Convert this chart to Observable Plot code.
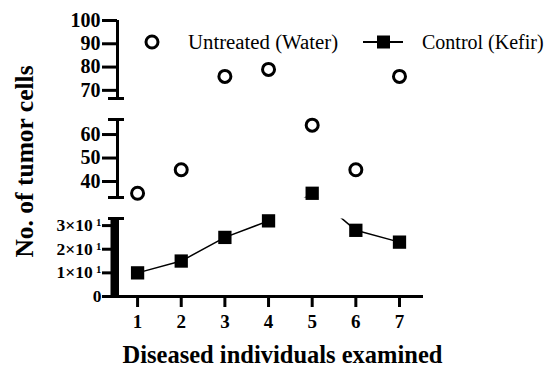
<!DOCTYPE html>
<html><head><meta charset="utf-8">
<script src="https://cdn.jsdelivr.net/npm/d3@7"></script>
<script src="https://cdn.jsdelivr.net/npm/@observablehq/plot@0.6"></script>
<style>body{margin:0;background:#fff}</style>
</head><body><div id="chart"></div>
<script>
const individuals = [1, 2, 3, 4, 5, 6, 7];
const untreated = [35, 45, 76, 79, 64, 45, 76];
const kefir = [10, 15, 25, 32, 35, 28, 23];
const seriesNames = ["Untreated (Water)", "Control (Kefir)"];
const yTicksTop = [70, 80, 90, 100];
const yTicksMid = [40, 50, 60];
const yTicksLow = [0, 10, 20, 30];
const lowTickLabels = ["0", "1×10\u2009¹", "2×10\u2009¹", "3×10\u2009¹"];
const segments = [[0, 33], [33.2, 66.4], [66.5, 100]];
const xLabel = "Diseased individuals examined";
const yLabel = "No. of tumor cells";

const W = 553, H = 370, mL = 117, mR = 130, mT = 20, mB = 74, gap = 21;
const FONT = "Liberation Serif";
const xDomain = [0.54, 7.55];
const k = (xDomain[1] - xDomain[0]) / (W - mL - mR);
const segH = (H - mB - mT - gap * (segments.length - 1)) / segments.length;
const yRange = [];
segments.forEach((s, i) => {
  const b = H - mB - i * (segH + gap);
  yRange.push(b, b - segH);
});

const rows = individuals.map((x, i) => ({x, untreated: untreated[i], kefir: kefir[i]}));
const caps = [segments[0][1], segments[1][0], segments[1][1], segments[2][0]];

function clipToSegments(index, scales, values, dims, context, next) {
  const g = next(index, scales, values, dims, context);
  const ns = "http://www.w3.org/2000/svg";
  const cp = document.createElementNS(ns, "clipPath");
  cp.setAttribute("id", "segclip");
  segments.forEach((s) => {
    const yb = scales.y(s[0]), yt = scales.y(s[1]);
    const r = document.createElementNS(ns, "rect");
    r.setAttribute("x", 0); r.setAttribute("y", yt);
    r.setAttribute("width", W); r.setAttribute("height", yb - yt);
    cp.appendChild(r);
  });
  const wrap = document.createElementNS(ns, "g");
  wrap.appendChild(cp);
  g.setAttribute("clip-path", "url(#segclip)");
  wrap.appendChild(g);
  return wrap;
}

const axisText = {fontWeight: "bold", fontFamily: FONT, fill: "black"};

const plot = Plot.plot({
  width: W, height: H,
  marginLeft: mL, marginRight: mR, marginTop: mT, marginBottom: mB,
  style: {fontFamily: FONT, background: "white", color: "black"},
  x: {type: "linear", domain: xDomain},
  y: {type: "linear", domain: segments.flat(), range: yRange},
  marks: [
    Plot.ruleX(segments, {x: () => xDomain[0], y1: d => d[0], y2: d => d[1], stroke: "black", strokeWidth: 3}),
    Plot.ruleX([segments[0]], {x: () => xDomain[0], y1: d => d[0], y2: d => d[1], stroke: "black", strokeWidth: 8, dx: -3}),
    Plot.ruleY(caps, {y: d => d, x1: () => xDomain[0] - 9 * k, x2: () => xDomain[0] + 7 * k, stroke: "black", strokeWidth: 3}),
    Plot.ruleY([0], {y: d => d, x1: () => xDomain[0] - 8 * k, x2: () => xDomain[1], stroke: "black", strokeWidth: 3}),
    Plot.axisY([...yTicksTop, ...yTicksMid], {tickSize: 15, tickPadding: 2, strokeWidth: 3, fontSize: 20, label: null, ...axisText}),
    Plot.axisY(yTicksLow, {tickSize: 15, tickPadding: 1, strokeWidth: 3, fontSize: 17.5, label: null, ...axisText,
      tickFormat: d => lowTickLabels[yTicksLow.indexOf(d)]}),
    Plot.axisX(individuals, {tickSize: 11, tickPadding: 7, strokeWidth: 3, fontSize: 19, label: null, ...axisText}),
    Plot.line(rows, {x: "x", y: "kefir", stroke: "black", strokeWidth: 1.5, render: clipToSegments}),
    Plot.dot(rows, {x: "x", y: "untreated", r: 6, stroke: "black", strokeWidth: 3, fill: "white"}),
    Plot.dot(rows, {x: "x", y: "kefir", symbol: "square", r: 7.5, fill: "black", stroke: "none"}),
    Plot.text([xLabel], {frameAnchor: "bottom", lineAnchor: "middle", textAnchor: "middle", dy: 59, dx: 12, fontSize: 24.5, ...axisText}),
    Plot.text([yLabel], {frameAnchor: "left", textAnchor: "middle", lineAnchor: "middle", rotate: -90, dx: -93, dy: 3, fontSize: 25.5, ...axisText})
  ]
});

const svg = d3.select(plot);
// legend
const lg = svg.append("g").attr("text-anchor", "start")
  .style("font-family", FONT).style("font-size", "20px").style("font-weight", "normal");
const ly = 42;
lg.append("circle").attr("cx", 152).attr("cy", ly).attr("r", 6).attr("fill", "white").attr("stroke", "black").attr("stroke-width", 3);
lg.append("text").attr("x", 188).attr("y", ly).attr("dy", "0.35em").attr("fill", "black").style("font-size", "20.8px").text(seriesNames[0]);
lg.append("line").attr("x1", 363).attr("x2", 403).attr("y1", ly).attr("y2", ly).attr("stroke", "black").attr("stroke-width", 2);
lg.append("rect").attr("x", 377).attr("y", ly - 6.5).attr("width", 13).attr("height", 13).attr("fill", "black");
lg.append("text").attr("x", 422).attr("y", ly).attr("dy", "0.35em").attr("fill", "black").text(seriesNames[1]);

document.getElementById("chart").appendChild(plot);
</script></body></html>
